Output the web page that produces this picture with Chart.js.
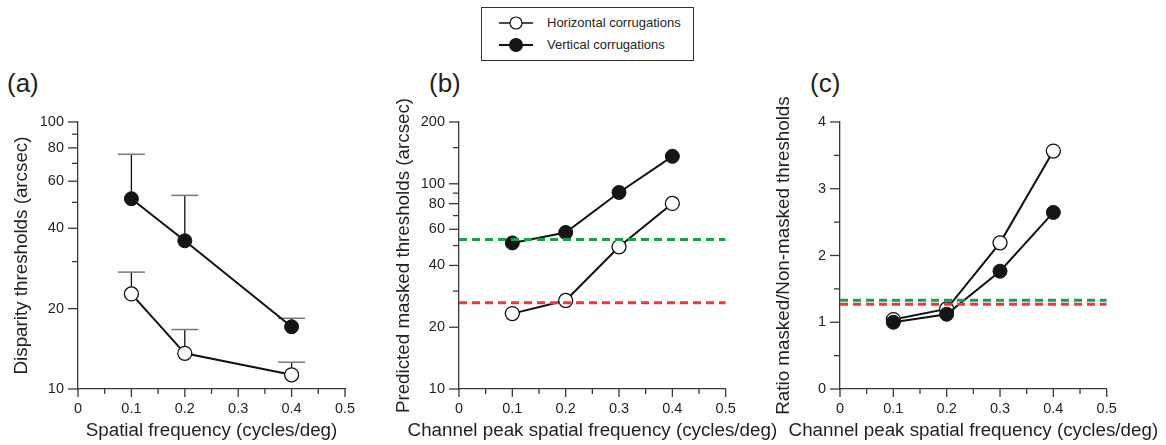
<!DOCTYPE html>
<html>
<head>
<meta charset="utf-8">
<script src="https://cdn.jsdelivr.net/npm/chart.js@4"></script>
<style>
  body { margin: 0; background: #fff; width: 1166px; height: 445px; overflow: hidden; position: relative; font-family: "Liberation Sans", Arial, sans-serif; color: #231f20; }
  canvas { position: absolute; top: 0; }
  .panel { position: absolute; top: 70px; font-size: 26px; line-height: 26px; }
  #legend { position: absolute; left: 481px; top: 7px; width: 213px; height: 54px; box-sizing: border-box; border: 1px solid #333; }
  .row { position: absolute; left: 0; height: 20px; font-size: 13px; line-height: 20px; }
  .row svg { position: absolute; left: 15px; top: 0; }
  .row span { position: absolute; left: 65px; white-space: nowrap; }
</style>
</head>
<body>
<div class="panel" style="left:7px">(a)</div>
<div class="panel" style="left:429px">(b)</div>
<div class="panel" style="left:810px">(c)</div>
<div id="legend"></div>
<canvas id="chartA" width="380" height="445" style="left:0px"></canvas>
<canvas id="chartB" width="405" height="445" style="left:380px"></canvas>
<canvas id="chartC" width="401" height="445" style="left:765px"></canvas>
<script>
// series names
const seriesNames = ['Horizontal corrugations', 'Vertical corrugations'];

// (a) measured thresholds, with upper error bar ends
const freqA = [0.1, 0.2, 0.4];
const horizA = [22.7, 13.6, 11.3];
const horizAErr = [27.4, 16.7, 12.6];
const vertA = [51.6, 35.9, 17.1];
const vertAErr = [75.7, 53.1, 18.4];

// (b) predicted masked thresholds
const freqB = [0.1, 0.2, 0.3, 0.4];
const horizB = [23.3, 27.0, 49.3, 80.2];
const vertB = [51.5, 57.9, 90.7, 136];
const greenB = 53.5;
const redB = 26.3;

// (c) ratio masked / non-masked
const horizC = [1.04, 1.2, 2.19, 3.565];
const vertC = [1.0, 1.12, 1.765, 2.645];
const greenC = 1.33;
const redC = 1.27;

// axis ticks
const xRange = [0, 0.5];
const xLabels = [0, 0.1, 0.2, 0.3, 0.4, 0.5];
const xMinor = [0.05, 0.15, 0.25, 0.35, 0.45];
const yLabelsA = [10, 20, 40, 60, 80, 100];
const yMinorA = [30, 50, 70, 90];
const yLabelsB = [10, 20, 40, 60, 80, 100, 200];
const yMinorB = [30, 50, 70, 90, 150];
const yLabelsC = [0, 1, 2, 3, 4];
const yMinorC = [0.5, 1.5, 2.5, 3.5];

const ink = '#231f20';
const axisCol = '#3a3a3a';
const font = 'Liberation Sans';

const pts = (xs, ys) => xs.map((x, i) => ({x: x, y: ys[i]}));
const flat = (v) => [{x: xRange[0], y: v}, {x: xRange[1], y: v}];

// draws tick marks, axis titles and error bars
const axisDecor = {
  id: 'axisDecor',
  beforeDatasetsDraw(chart) {
    const ctx = chart.ctx, xs = chart.scales.x, ys = chart.scales.y;
    chart.data.datasets.forEach((ds) => {
      if (!ds.errUpper) return;
      ds.data.forEach((p, i) => {
        const px = xs.getPixelForValue(p.x);
        const y0 = ys.getPixelForValue(p.y);
        const y1 = ys.getPixelForValue(ds.errUpper[i]);
        ctx.save();
        ctx.strokeStyle = '#111';
        ctx.lineWidth = 1.3;
        ctx.beginPath(); ctx.moveTo(px, y0); ctx.lineTo(px, y1); ctx.stroke();
        ctx.strokeStyle = '#777';
        ctx.lineWidth = 1.5;
        ctx.beginPath(); ctx.moveTo(px - 13.5, y1); ctx.lineTo(px + 13.5, y1); ctx.stroke();
        ctx.restore();
      });
    });
  },
  afterDraw(chart, args, opts) {
    const ctx = chart.ctx, xs = chart.scales.x, ys = chart.scales.y;
    const area = chart.chartArea;
    ctx.save();
    ctx.strokeStyle = axisCol;
    ctx.lineWidth = 1.3;
    const tick = (x1, y1, x2, y2) => { ctx.beginPath(); ctx.moveTo(x1, y1); ctx.lineTo(x2, y2); ctx.stroke(); };
    opts.xMajor.forEach(v => { const p = xs.getPixelForValue(v); tick(p, area.bottom, p, area.bottom + 8); });
    opts.xMinor.forEach(v => { const p = xs.getPixelForValue(v); tick(p, area.bottom, p, area.bottom + 5); });
    opts.yMajor.forEach(v => { const p = ys.getPixelForValue(v); tick(area.left, p, area.left - 10, p); });
    opts.yMinor.forEach(v => { const p = ys.getPixelForValue(v); tick(area.left, p, area.left - 6, p); });

    ctx.fillStyle = ink;
    ctx.font = '18.8px "' + font + '"';
    ctx.textAlign = 'center';
    ctx.textBaseline = 'middle';
    ctx.fillText(opts.xTitle, (area.left + area.right) / 2, opts.xTitleY);
    ctx.translate(opts.yTitleX, (area.top + area.bottom) / 2);
    ctx.rotate(-Math.PI / 2);
    ctx.fillText(opts.yTitle, 0, 0);
    ctx.restore();
  }
};

function openSet(label, data, extra) {
  return Object.assign({
    label: label, data: data, order: 2,
    borderColor: '#111', borderWidth: 2,
    pointBackgroundColor: '#fff', pointBorderColor: '#111', pointBorderWidth: 1.3,
    pointRadius: 7, tension: 0
  }, extra || {});
}
function filledSet(label, data, extra) {
  return Object.assign({
    label: label, data: data, order: 1,
    borderColor: '#111', borderWidth: 2,
    pointBackgroundColor: '#151515', pointBorderColor: '#151515', pointBorderWidth: 1,
    pointRadius: 7, tension: 0
  }, extra || {});
}
function dashSet(label, value, color) {
  return {
    label: label, data: flat(value), order: 0,
    borderColor: color, borderWidth: 3, borderDash: [8, 5],
    pointRadius: 0, tension: 0
  };
}

function makeChart(id, cfg) {
  const yType = cfg.log ? 'logarithmic' : 'linear';
  return new Chart(document.getElementById(id), {
    type: 'line',
    data: {datasets: cfg.datasets},
    options: {
      responsive: false,
      animation: false,
      devicePixelRatio: 1,
      layout: {padding: {left: 0, top: 122, right: cfg.padRight, bottom: 0}},
      plugins: {
        legend: {display: false},
        tooltip: {enabled: false},
        axisDecor: {
          xMajor: xLabels, xMinor: xMinor, yMajor: cfg.yLabels, yMinor: cfg.yMinor,
          xTitle: cfg.xTitle, yTitle: cfg.yTitle, xTitleY: 431, yTitleX: cfg.yTitleX
        }
      },
      scales: {
        x: {
          type: 'linear', min: xRange[0], max: xRange[1],
          grid: {drawOnChartArea: false, drawTicks: false},
          border: {display: true, color: axisCol, width: 1.3},
          ticks: {
            autoSkip: false, maxRotation: 0, padding: 11.5, color: ink,
            font: {family: font, size: 14.5},
            callback: (v) => String(v)
          },
          afterBuildTicks: (s) => { s.ticks = xLabels.map(v => ({value: v})); },
          afterFit: (s) => { s.height = 56; s.paddingLeft = 0; s.paddingRight = 0; }
        },
        y: {
          type: yType, min: cfg.yMin, max: cfg.yMax,
          grid: {drawOnChartArea: false, drawTicks: false},
          border: {display: true, color: axisCol, width: 1.3},
          ticks: {
            autoSkip: false, padding: 14, color: ink,
            font: {family: font, size: 14.5},
            callback: (v) => String(v)
          },
          afterBuildTicks: (s) => { s.ticks = cfg.yLabels.map(v => ({value: v})); },
          afterFit: (s) => { s.width = cfg.yWidth; s.paddingTop = 0; s.paddingBottom = 0; }
        }
      }
    },
    plugins: [axisDecor]
  });
}

makeChart('chartA', {
  log: true, yMin: 10, yMax: 100, yLabels: yLabelsA, yMinor: yMinorA,
  yWidth: 78, padRight: 35, yTitleX: 22,
  xTitle: 'Spatial frequency (cycles/deg)',
  yTitle: 'Disparity thresholds (arcsec)',
  datasets: [
    openSet(seriesNames[0], pts(freqA, horizA), {errUpper: horizAErr}),
    filledSet(seriesNames[1], pts(freqA, vertA), {errUpper: vertAErr})
  ]
});

makeChart('chartB', {
  log: true, yMin: 10, yMax: 200, yLabels: yLabelsB, yMinor: yMinorB,
  yWidth: 79, padRight: 59.3, yTitleX: 24,
  xTitle: 'Channel peak spatial frequency (cycles/deg)',
  yTitle: 'Predicted masked thresholds (arcsec)',
  datasets: [
    dashSet('green', greenB, '#19a04b'),
    dashSet('red', redB, '#e83a3a'),
    openSet(seriesNames[0], pts(freqB, horizB)),
    filledSet(seriesNames[1], pts(freqB, vertB))
  ]
});

makeChart('chartC', {
  log: false, yMin: 0, yMax: 4, yLabels: yLabelsC, yMinor: yMinorC,
  yWidth: 75, padRight: 59.3, yTitleX: 19,
  xTitle: 'Channel peak spatial frequency (cycles/deg)',
  yTitle: 'Ratio masked/Non-masked thresholds',
  datasets: [
    dashSet('green', greenC, '#19a04b'),
    dashSet('red', redC, '#e83a3a'),
    openSet(seriesNames[0], pts(freqB, horizC)),
    filledSet(seriesNames[1], pts(freqB, vertC))
  ]
});

// legend
const legend = document.getElementById('legend');
const markerSvg = [
  '<svg width="40" height="20"><line x1="2" y1="10" x2="36" y2="10" stroke="#111" stroke-width="1.5"/><circle cx="19" cy="10" r="6" fill="#fff" stroke="#111" stroke-width="1.2"/></svg>',
  '<svg width="40" height="20"><line x1="2" y1="10" x2="36" y2="10" stroke="#111" stroke-width="2"/><circle cx="19" cy="10" r="7" fill="#151515"/></svg>'
];
seriesNames.forEach((name, i) => {
  const row = document.createElement('div');
  row.className = 'row';
  row.style.top = (i === 0 ? 4.5 : 27) + 'px';
  row.innerHTML = markerSvg[i] + '<span>' + name + '</span>';
  legend.appendChild(row);
});
</script>
</body>
</html>
